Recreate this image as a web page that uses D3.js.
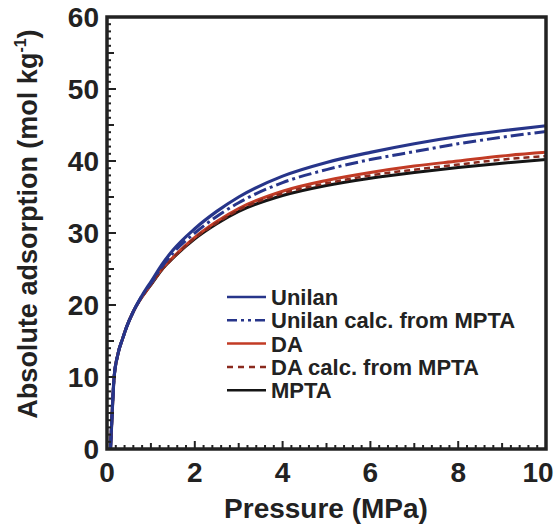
<!DOCTYPE html>
<html><head><meta charset="utf-8">
<script src="https://cdn.jsdelivr.net/npm/d3@7"></script>
<style>body{margin:0;background:#fff}svg{display:block}text{font-family:"Liberation Sans",Arial,sans-serif;font-weight:bold;fill:#222}</style>
</head><body><svg id="c" width="558" height="524"></svg>
<script>
const pressure = [0.08,0.11,0.16,0.25,0.36,0.45,0.6,0.75,0.9,1.0,1.25,1.5,2.0,2.5,3.0,4.0,5.0,6.0,7.0,8.0,9.0,10.0];
const mpta      = [0,4,9.8,13.2,15.4,17.0,19.1,20.7,22.0,22.8,24.9,26.5,29.2,31.3,33.0,35.2,36.6,37.6,38.4,39.1,39.7,40.2];
const unilan    = [0,4,9.8,13.2,15.4,17.0,19.1,20.8,22.3,23.2,25.6,27.6,30.6,33.0,35.0,37.9,39.8,41.2,42.4,43.4,44.2,44.9];
const unilanCalc= [0,4,9.8,13.2,15.4,17.0,19.1,20.8,22.2,23.0,25.3,27.2,30.0,32.3,34.2,37.0,38.8,40.2,41.3,42.4,43.3,44.1];
const da        = [0,4,9.8,13.2,15.4,17.0,19.1,20.7,22.0,22.9,25.0,26.6,29.4,31.6,33.4,35.8,37.3,38.4,39.3,40.0,40.7,41.2];
const daCalc    = [0,4,9.8,13.2,15.4,17.0,19.1,20.7,22.0,22.8,24.9,26.5,29.3,31.4,33.2,35.5,36.9,38.0,38.8,39.5,40.2,40.7];
const seriesNames = ["Unilan","Unilan calc. from MPTA","DA","DA calc. from MPTA","MPTA"];
const xTicks = [0,2,4,6,8,10];
const yTicks = [0,10,20,30,40,50,60];

const styles = [
  {c:"#27358a", w:3.2, d:null},
  {c:"#27358a", w:3, d:"13,4,3,4"},
  {c:"#c23b25", w:3, d:null},
  {c:"#8a2a1e", w:2.5, d:"6,4"},
  {c:"#151515", w:3, d:null}
];
const dataSets = [unilan, unilanCalc, da, daCalc, mpta];

const svg = d3.select("#c");
const L=107, R=546, T=17, B=449;
const x = d3.scaleLinear().domain([0,10]).range([L,R]);
const y = d3.scaleLinear().domain([0,60]).range([B,T]);

const line = d3.line().x(d=>x(d[0])).y(d=>y(d[1])).curve(d3.curveMonotoneX);
const order=[4,2,3,0,1];
order.forEach(i=>{
  const s=styles[i];
  svg.append("path").attr("d", line(pressure.map((p,k)=>[p,dataSets[i][k]])))
    .attr("fill","none").attr("stroke",s.c).attr("stroke-width",s.w)
    .attr("stroke-dasharray",s.d).attr("stroke-linecap","butt");
});

const ax = svg.append("g").attr("stroke","#222");
d3.range(0,10.001,0.2).forEach(v=>{
  const r=Math.round(v*10)/10;
  const len = (r%2===0)?8:(Math.abs(r-Math.round(r))<1e-6?6:4);
  ax.append("line").attr("x1",x(r)).attr("x2",x(r)).attr("y1",B).attr("y2",B-len).attr("stroke-width",2);
});
d3.range(0,61,1).forEach(v=>{
  const len = (v%10===0)?9:(v%5===0?7:4);
  ax.append("line").attr("x1",L).attr("x2",L+len).attr("y1",y(v)).attr("y2",y(v)).attr("stroke-width",2);
});
svg.append("rect").attr("x",L).attr("y",T).attr("width",R-L).attr("height",B-T)
  .attr("fill","none").attr("stroke","#222").attr("stroke-width",3.5);

svg.selectAll(".xt").data(xTicks).enter().append("text")
  .attr("x",d=>d===10 ? x(d)-8 : x(d)).attr("y",B+33).attr("text-anchor","middle").attr("font-size",28).text(d=>d);
svg.selectAll(".yt").data(yTicks).enter().append("text")
  .attr("x",L-8).attr("y",d=>y(d)+10).attr("text-anchor","end").attr("font-size",28).text(d=>d);

svg.append("text").attr("x",326).attr("y",518).attr("text-anchor","middle").attr("font-size",28).text("Pressure (MPa)");
const yt = svg.append("text").attr("transform","translate(37,224) rotate(-90)").attr("text-anchor","middle").attr("font-size",27);
yt.append("tspan").text("Absolute adsorption (mol kg");
yt.append("tspan").attr("font-size",16).attr("dy",-11).text("-1");
yt.append("tspan").attr("dy",11).text(")");

const lg = svg.append("g");
const legendStyles=[
  {c:"#27358a",d:null},{c:"#27358a",d:"10,4,3,4,3,4"},{c:"#c23b25",d:null},{c:"#8a2a1e",d:"6,5"},{c:"#151515",d:null}
];
seriesNames.forEach((n,i)=>{
  const yy = 297 + i*23.3;
  lg.append("line").attr("x1",227).attr("x2",266).attr("y1",yy).attr("y2",yy)
    .attr("stroke",legendStyles[i].c).attr("stroke-width",2.5).attr("stroke-dasharray",legendStyles[i].d);
  lg.append("text").attr("x",271).attr("y",yy+8).attr("font-size",22).text(n);
});
</script></body></html>
